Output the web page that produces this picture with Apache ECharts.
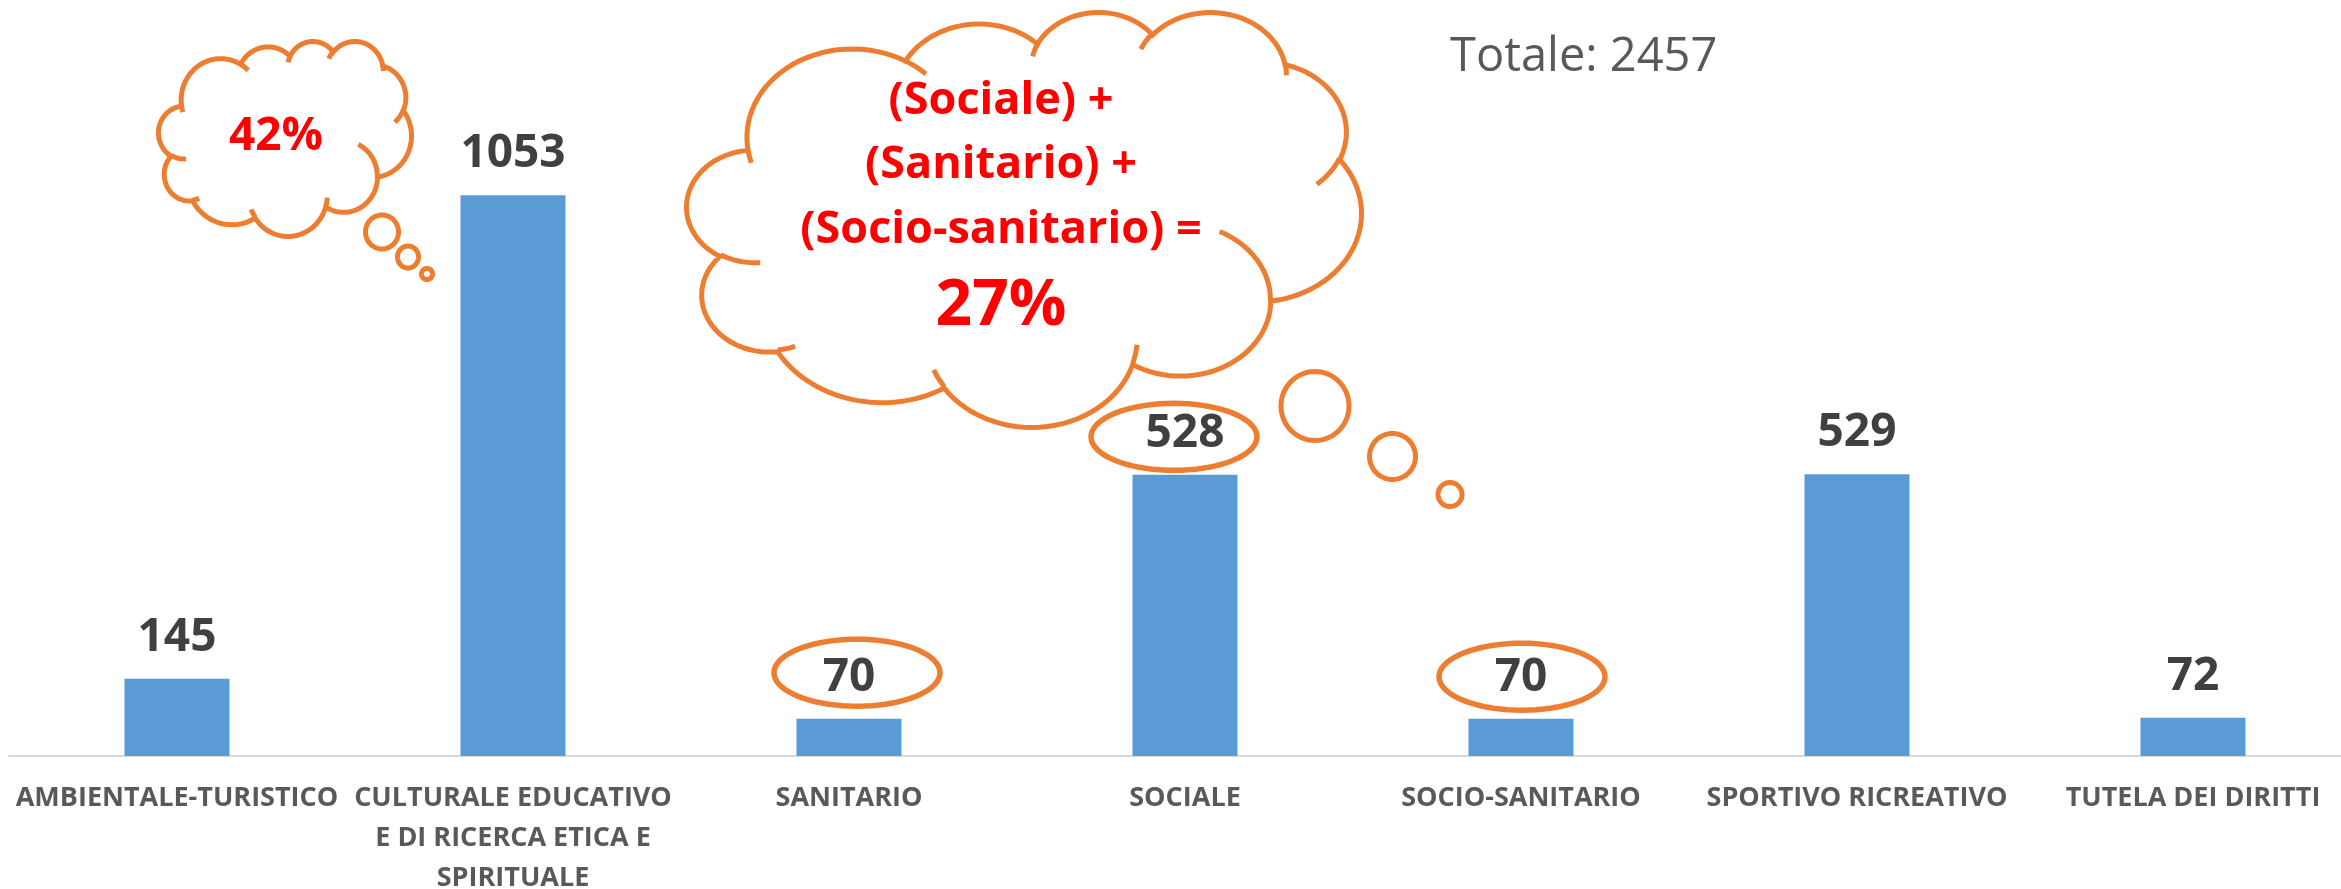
<!DOCTYPE html>
<html>
<head>
<meta charset="utf-8">
<title>Totale</title>
<script src="https://cdn.jsdelivr.net/npm/echarts@6/dist/echarts.min.js"></script>
<style>
html,body{margin:0;padding:0;background:#fff;}
#main{width:2341px;height:889px;}
</style>
</head>
<body>
<div id="main"></div>
<script>
var categories=['AMBIENTALE-TURISTICO','CULTURALE EDUCATIVO\nE DI RICERCA ETICA E\nSPIRITUALE','SANITARIO','SOCIALE','SOCIO-SANITARIO','SPORTIVO RICREATIVO','TUTELA DEI DIRITTI'];
var values=[145,1053,70,528,70,529,72];
var totalText='Totale: 2457';
var smallCloudText='42%';
var bigCloudLines=['(Sociale) +','(Sanitario) +','(Socio-sanitario) ='];
var bigCloudPct='27%';
var circled=['SANITARIO','SOCIALE','SOCIO-SANITARIO'];

// offsets of the rings from the bar top (px)
var ringOffset={'SANITARIO':[8,-46],'SOCIALE':[-11,-38],'SOCIO-SANITARIO':[1,-42]};

var ORANGE='#ED7D31';
var LW=5;

// office "cloud" preset, 43200 x 43200 path space
var CLOUD_START=[3900,14370];
var CLOUD_ARCS=[
  [6753,9190,-11429249,7426832],
  [5333,7267,-8646143,5396714],
  [4365,5945,-8748475,5983381],
  [4857,6595,-7859164,7034504],
  [5333,7273,-4722533,6541615],
  [6775,9220,-2776035,7816140],
  [5785,7867,37501,6842000],
  [6752,9215,1347096,6910353],
  [7720,10543,3974558,4542661],
  [4360,5918,-16496525,8804134],
  [4345,5945,-14809710,9151131]
];
var CLOUD_HOOKS=[
  [4693,26177,4345,5945,5204520,1585770],
  [6928,34899,4360,5918,4416628,686848],
  [16478,39090,6752,9215,8257449,844866],
  [28827,34751,6752,9215,387196,959901],
  [34129,22954,5785,7867,-4217541,4255042],
  [41798,15354,5333,7273,1819082,1665090],
  [38324,5426,4857,6595,-824660,891534],
  [29078,3952,4857,6595,-8950887,1091722],
  [22141,4720,4365,5945,-9809656,1061181],
  [14000,5192,6753,9190,-4002417,739161],
  [4127,15789,6753,9190,9459261,711490]
];

function arcPts(x,y,wR,hR,st,sw,n){
  var a1=st/60000*Math.PI/180, a2=(st+sw)/60000*Math.PI/180;
  function par(a){return Math.atan2(wR*Math.sin(a),hR*Math.cos(a));}
  var t1=par(a1), t2=par(a2), dt=t2-t1;
  if(sw>0&&dt<0) dt+=2*Math.PI;
  if(sw<0&&dt>0) dt-=2*Math.PI;
  var cx=x-wR*Math.cos(t1), cy=y-hR*Math.sin(t1);
  var pts=[];
  for(var i=1;i<=n;i++){
    var t=t1+dt*i/n;
    pts.push([cx+wR*Math.cos(t),cy+hR*Math.sin(t)]);
  }
  return pts;
}

function ellipsePts(cx,cy,rx,ry){
  var pts=[];
  for(var i=0;i<72;i++){
    var t=i/72*Math.PI*2;
    pts.push([cx+rx*Math.cos(t),cy+ry*Math.sin(t)]);
  }
  return pts;
}

// cloud fitted in outer box x0..x1, y0..y1
function cloud(x0,y0,x1,y1,z){
  var p=[CLOUD_START];
  CLOUD_ARCS.forEach(function(a){
    var last=p[p.length-1];
    p=p.concat(arcPts(last[0],last[1],a[0],a[1],a[2],a[3],30));
  });
  var minx=1e9,maxx=-1e9,miny=1e9,maxy=-1e9;
  p.forEach(function(q){
    minx=Math.min(minx,q[0]);maxx=Math.max(maxx,q[0]);
    miny=Math.min(miny,q[1]);maxy=Math.max(maxy,q[1]);
  });
  var h=LW/2;
  var sx=(x1-x0-2*h)/(maxx-minx), sy=(y1-y0-2*h)/(maxy-miny);
  function m(q){return [x0+h+(q[0]-minx)*sx,y0+h+(q[1]-miny)*sy];}
  var els=[{type:'polygon',z:z,shape:{points:p.map(m)},style:{fill:'#fff',stroke:ORANGE,lineWidth:LW}}];
  CLOUD_HOOKS.forEach(function(k){
    var pts=[[k[0],k[1]]].concat(arcPts(k[0],k[1],k[2],k[3],k[4],k[5],16));
    els.push({type:'polyline',z:z+1,shape:{points:pts.map(m)},style:{fill:'none',stroke:ORANGE,lineWidth:LW}});
  });
  return els;
}

function bubble(cx,cy,rx,ry,z,lw){
  return {type:'polygon',z:z,shape:{points:ellipsePts(cx,cy,rx,ry)},style:{fill:'none',stroke:ORANGE,lineWidth:lw||LW}};
}

function txt(x,y,s,size,weight,color,align){
  return {type:'text',z:120,x:x,y:y,style:{text:s,fontSize:size,fontWeight:weight,fontFamily:'Open Sans',fill:color,align:align||'center',verticalAlign:'middle'}};
}

var chartDom=document.getElementById('main');
var myChart=echarts.init(chartDom);

var option={
  animation:false,
  backgroundColor:'#fff',
  grid:{left:9,width:2352,top:117,height:639,containLabel:false,outerBoundsMode:'none'},
  xAxis:{
    type:'category',
    data:categories,
    axisLine:{lineStyle:{color:'#D9D9D9',width:2}},
    axisTick:{show:false},
    axisLabel:{interval:0,margin:22,lineHeight:40,fontSize:27,fontWeight:'bold',fontFamily:'Open Sans',color:'#595959'}
  },
  yAxis:{type:'value',min:0,max:1200,show:false,splitLine:{show:false}},
  series:[{
    type:'bar',
    data:values,
    barWidth:105,
    itemStyle:{color:'#5B9BD5'},
    label:{show:true,position:'top',distance:18,fontSize:46,fontWeight:'bold',fontFamily:'Open Sans',color:'#404040'}
  }]
};
option&&myChart.setOption(option);

var g=[];
g=g.concat(cloud(156,39,414,239,100));
g.push(bubble(382,232,16.5,17,100));
g.push(bubble(408,257,10.5,11,100));
g.push(bubble(427,274,5.5,5.5,100));
g.push(txt(276,137,smallCloudText,46,'bold','#FF0000'));

g=g.concat(cloud(684,10,1364,430,100));
g.push(bubble(1315,406,34,34.5,100));
g.push(bubble(1392.5,456.5,23,23,100));
g.push(bubble(1450,494.5,12,12,100));
bigCloudLines.forEach(function(s,i){
  g.push(txt(1001,101+i*64.5,s,45,'bold','#FF0000'));
});
g.push(txt(1001,307,bigCloudPct,64,'bold','#FF0000'));

g.push(txt(1450,58,totalText,47,'normal','#595959','left'));

circled.forEach(function(name){
  var idx=categories.indexOf(name);
  var pt=myChart.convertToPixel({seriesIndex:0},[idx,values[idx]]);
  var off=ringOffset[name];
  g.push(bubble(pt[0]+off[0],pt[1]+off[1],83,33.5,110,5.5));
});

myChart.setOption({graphic:g});
</script>
</body>
</html>
